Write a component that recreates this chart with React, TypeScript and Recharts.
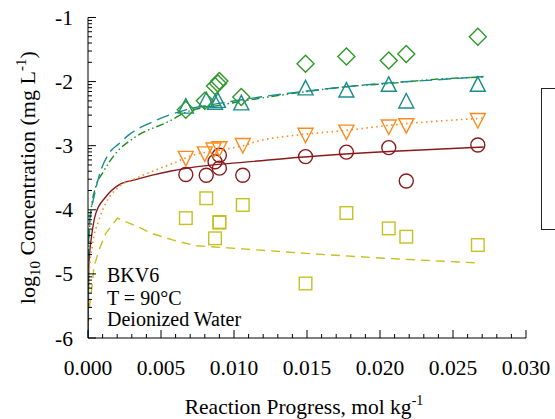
import React from "react";
import { ComposedChart, Line, Scatter, XAxis, YAxis, Customized } from "recharts";

const FONT = "Liberation Serif, Times New Roman, DejaVu Serif, serif";
const TXT = { fontFamily: FONT };

// Axis ticks
const X_MAJOR = [0, 0.005, 0.01, 0.015, 0.02, 0.025, 0.03];
const X_MINOR_STEP = 0.001;
const Y_MAJOR = [-6, -5, -4, -3, -2, -1];
const Y_MINOR_MULT = [2, 3, 4, 5, 6, 7, 8, 9];

const xTicks: number[] = [];
for (let i = 0; i <= 30; i++) xTicks.push(+(i * X_MINOR_STEP).toFixed(3));
const yTicks: number[] = [...Y_MAJOR];
Y_MAJOR.slice(0, -1).forEach((d) => Y_MINOR_MULT.forEach((k) => yTicks.push(d + Math.log10(k))));

// Measured concentrations (log10 mg/L) vs reaction progress (mol/kg)
const diamonds = [
  { x: 0.0067, y: -2.44 }, { x: 0.0080, y: -2.30 }, { x: 0.0087, y: -2.07 },
  { x: 0.0089, y: -2.03 }, { x: 0.0090, y: -1.99 }, { x: 0.0105, y: -2.24 },
  { x: 0.0149, y: -1.72 }, { x: 0.0177, y: -1.61 }, { x: 0.0206, y: -1.67 },
  { x: 0.0218, y: -1.57 }, { x: 0.0267, y: -1.30 },
];
const triangles = [
  { x: 0.0067, y: -2.39 }, { x: 0.0081, y: -2.29 }, { x: 0.0087, y: -2.33 },
  { x: 0.0089, y: -2.30 }, { x: 0.0105, y: -2.34 }, { x: 0.0149, y: -2.105 },
  { x: 0.0177, y: -2.14 }, { x: 0.0206, y: -2.05 }, { x: 0.0218, y: -2.31 },
  { x: 0.0267, y: -2.05 },
];
const invTriangles = [
  { x: 0.0067, y: -3.19 }, { x: 0.0080, y: -3.12 }, { x: 0.0086, y: -3.06 },
  { x: 0.0090, y: -3.04 }, { x: 0.0106, y: -2.99 }, { x: 0.0149, y: -2.83 },
  { x: 0.0177, y: -2.78 }, { x: 0.0206, y: -2.70 }, { x: 0.0218, y: -2.68 },
  { x: 0.0267, y: -2.60 },
];
const circles = [
  { x: 0.0067, y: -3.45 }, { x: 0.0081, y: -3.46 }, { x: 0.0087, y: -3.25 },
  { x: 0.0090, y: -3.35 }, { x: 0.0090, y: -3.15 }, { x: 0.0106, y: -3.46 },
  { x: 0.0149, y: -3.17 }, { x: 0.0177, y: -3.10 }, { x: 0.0206, y: -3.03 },
  { x: 0.0218, y: -3.55 }, { x: 0.0267, y: -2.99 },
];
const squares = [
  { x: 0.0067, y: -4.13 }, { x: 0.0081, y: -3.82 }, { x: 0.0087, y: -4.445 },
  { x: 0.0090, y: -4.19 }, { x: 0.0090, y: -4.20 }, { x: 0.0106, y: -3.925 },
  { x: 0.0149, y: -5.15 }, { x: 0.0177, y: -4.05 }, { x: 0.0206, y: -4.29 },
  { x: 0.0218, y: -4.42 }, { x: 0.0267, y: -4.55 },
];

// Model curves
const tealCurve = [
  { x: 0, y: -6 }, { x: 0.00002, y: -4.75 }, { x: 0.00012, y: -4.16 }, { x: 0.00041, y: -3.8 },
  { x: 0.00075, y: -3.48 }, { x: 0.00144, y: -3.12 }, { x: 0.00212, y: -2.97 }, { x: 0.00286, y: -2.82 },
  { x: 0.0044, y: -2.63 }, { x: 0.0067, y: -2.44 }, { x: 0.009, y: -2.34 }, { x: 0.0118, y: -2.24 },
  { x: 0.0149, y: -2.15 }, { x: 0.0177, y: -2.08 }, { x: 0.0206, y: -2.02 }, { x: 0.0237, y: -1.975 },
  { x: 0.0271, y: -1.92 },
];
const greenCurve = [
  { x: 0, y: -6 }, { x: 0.00003, y: -4.8 }, { x: 0.00019, y: -4.05 }, { x: 0.00053, y: -3.64 },
  { x: 0.00099, y: -3.43 }, { x: 0.0019, y: -3.12 }, { x: 0.00327, y: -2.86 }, { x: 0.00555, y: -2.62 },
  { x: 0.0067, y: -2.48 }, { x: 0.009, y: -2.37 }, { x: 0.0118, y: -2.26 }, { x: 0.0145, y: -2.17 },
  { x: 0.0177, y: -2.08 }, { x: 0.0206, y: -2.03 }, { x: 0.0237, y: -1.965 }, { x: 0.0271, y: -1.93 },
];
const redCurve = [
  { x: 0, y: -6 }, { x: 0.00005, y: -4.89 }, { x: 0.00027, y: -4.37 }, { x: 0.00053, y: -4.06 },
  { x: 0.00121, y: -3.8 }, { x: 0.00212, y: -3.61 }, { x: 0.00327, y: -3.53 }, { x: 0.00441, y: -3.46 },
  { x: 0.00578, y: -3.39 }, { x: 0.00738, y: -3.33 }, { x: 0.0106, y: -3.26 }, { x: 0.0145, y: -3.18 },
  { x: 0.0206, y: -3.09 }, { x: 0.0271, y: -3.02 },
];
const orangeCurve = [
  { x: 0, y: -6 }, { x: 0.00008, y: -5.0 }, { x: 0.0003, y: -4.55 }, { x: 0.00075, y: -4.16 },
  { x: 0.00121, y: -3.9 }, { x: 0.00212, y: -3.64 }, { x: 0.00327, y: -3.51 }, { x: 0.0044, y: -3.4 },
  { x: 0.00578, y: -3.28 }, { x: 0.00715, y: -3.15 }, { x: 0.009, y: -3.07 }, { x: 0.0106, y: -3.0 },
  { x: 0.0118, y: -2.92 }, { x: 0.0145, y: -2.83 }, { x: 0.0177, y: -2.76 }, { x: 0.0207, y: -2.68 },
  { x: 0.0271, y: -2.57 },
];
const yellowCurve = [
  { x: 0, y: -6 }, { x: 0.00005, y: -5.61 }, { x: 0.00027, y: -5.2 }, { x: 0.00041, y: -4.89 },
  { x: 0.00075, y: -4.63 }, { x: 0.00121, y: -4.37 }, { x: 0.00201, y: -4.13 }, { x: 0.00327, y: -4.25 },
  { x: 0.0044, y: -4.37 }, { x: 0.00578, y: -4.47 }, { x: 0.00738, y: -4.56 }, { x: 0.0106, y: -4.61 },
  { x: 0.0149, y: -4.68 }, { x: 0.0206, y: -4.76 }, { x: 0.0268, y: -4.83 },
];

const C_GREEN = "#2f9a2a";
const C_GREEN_LINE = "#1f8a1f";
const C_TEAL = "#1b8c8c";
const C_ORANGE = "#ff8a1a";
const C_RED = "#8a1a1a";
const C_YELLOW = "#c6c020";

const isMajor = (v: number, list: number[]) => list.some((m) => Math.abs(m - v) < 1e-9);

const BottomTick = (p: any) => {
  const { x, y, payload } = p;
  const major = isMajor(payload.value, X_MAJOR);
  return (
    <g>
      <line x1={x} y1={y} x2={x} y2={y - (major ? 8 : 4)} stroke="#000" />
      {major && (
        <text x={x} y={y + 37} textAnchor="middle" style={TXT} fontSize={21.5} fill="#000">
          {payload.value.toFixed(3)}
        </text>
      )}
    </g>
  );
};
const TopTick = (p: any) => {
  const { x, y, payload } = p;
  const major = isMajor(payload.value, X_MAJOR);
  return <line x1={x} y1={y} x2={x} y2={y + (major ? 8 : 4)} stroke="#000" />;
};
const LeftTick = (p: any) => {
  const { x, y, payload } = p;
  const major = isMajor(payload.value, Y_MAJOR);
  return (
    <g>
      <line x1={x} y1={y} x2={x + (major ? 8 : 4)} y2={y} stroke="#000" />
      {major && (
        <text x={x - 15} y={y + 7.5} textAnchor="end" style={TXT} fontSize={21.5} fill="#000">
          {String(payload.value)}
        </text>
      )}
    </g>
  );
};
const RightTick = (p: any) => {
  const { x, y, payload } = p;
  const major = isMajor(payload.value, Y_MAJOR);
  return <line x1={x} y1={y} x2={x - (major ? 8 : 4)} y2={y} stroke="#000" />;
};

const SW = 1.4;
const Diamond = (p: any) => {
  const { cx, cy } = p;
  const r = 8.5;
  return <polygon points={`${cx},${cy - r} ${cx + r},${cy} ${cx},${cy + r} ${cx - r},${cy}`} fill="none" stroke={C_GREEN} strokeWidth={SW} />;
};
const TriUp = (p: any) => {
  const { cx, cy } = p;
  return <polygon points={`${cx},${cy - 8} ${cx + 7.5},${cy + 6.5} ${cx - 7.5},${cy + 6.5}`} fill="none" stroke={C_TEAL} strokeWidth={SW} />;
};
const TriDown = (p: any) => {
  const { cx, cy } = p;
  return <polygon points={`${cx - 7.5},${cy - 6.5} ${cx + 7.5},${cy - 6.5} ${cx},${cy + 8}`} fill="none" stroke={C_ORANGE} strokeWidth={SW} />;
};
const Ring = (p: any) => {
  const { cx, cy } = p;
  return <circle cx={cx} cy={cy} r={7} fill="none" stroke={C_RED} strokeWidth={SW} />;
};
const Box = (p: any) => {
  const { cx, cy } = p;
  return <rect x={cx - 6.3} y={cy - 6.3} width={12.6} height={12.6} fill="none" stroke={C_YELLOW} strokeWidth={SW} />;
};

const XTitle = (p: any) => {
  const { viewBox } = p;
  const cx = viewBox.x + viewBox.width / 2;
  return (
    <text x={cx - 3} y={viewBox.y + 76} textAnchor="middle" style={TXT} fontSize={21.5} fill="#000">
      <tspan>Reaction Progress, mol kg</tspan>
      <tspan dy={-9} fontSize={14}>-1</tspan>
    </text>
  );
};
const YTitle = (p: any) => {
  const { viewBox } = p;
  const cy = viewBox.y + viewBox.height / 2;
  const bx = 35;
  return (
    <text x={bx} y={cy} transform={`rotate(-90 ${bx} ${cy})`} textAnchor="middle" style={TXT} fontSize={22} fill="#000">
      <tspan>log</tspan>
      <tspan dy={5} fontSize={15}>10</tspan>
      <tspan dy={-5}> Concentration (mg L</tspan>
      <tspan dy={-9} fontSize={15}>-1</tspan>
      <tspan dy={9}>)</tspan>
    </text>
  );
};

const Annotation = () => (
  <g style={TXT} fontSize={20} fill="#000">
    <text x={107} y={282}>BKV6</text>
    <text x={107} y={304.5}>T = 90°C</text>
    <text x={107} y={326}>Deionized Water</text>
  </g>
);

export default function App() {
  return (
    <div style={{ position: "absolute", left: 0, top: 0, width: 555, height: 419, overflow: "hidden", background: "#fff" }}>
      <ComposedChart width={555} height={419} margin={{ top: 17.5, right: 29, bottom: 0, left: 0 }}>
        <XAxis xAxisId="b" dataKey="x" type="number" domain={[0, 0.03]} allowDataOverflow ticks={xTicks} interval={0}
          tickSize={0} tickMargin={0} tickLine={false} tick={<BottomTick />} height={81} axisLine={{ stroke: "#000" }}
          label={<XTitle />} />
        <XAxis xAxisId="t" dataKey="x" type="number" orientation="top" domain={[0, 0.03]} allowDataOverflow ticks={xTicks}
          interval={0} tickSize={0} tickMargin={0} tickLine={false} tick={<TopTick />} height={0} axisLine={{ stroke: "#000" }} />
        <YAxis yAxisId="l" dataKey="y" type="number" domain={[-6, -1]} allowDataOverflow ticks={yTicks} interval={0}
          tickSize={0} tickMargin={0} tickLine={false} tick={<LeftTick />} width={88} axisLine={{ stroke: "#000" }}
          label={<YTitle />} />
        <YAxis yAxisId="r" dataKey="y" type="number" orientation="right" domain={[-6, -1]} allowDataOverflow ticks={yTicks}
          interval={0} tickSize={0} tickMargin={0} tickLine={false} tick={<RightTick />} width={0} axisLine={{ stroke: "#000" }} />

        <Line xAxisId="b" yAxisId="l" data={yellowCurve} dataKey="y" type="linear" stroke={C_YELLOW} strokeWidth={1.4}
          strokeDasharray="9 6" dot={false} isAnimationActive={false} />
        <Line xAxisId="b" yAxisId="l" data={redCurve} dataKey="y" type="monotone" stroke={C_RED} strokeWidth={1.4}
          dot={false} isAnimationActive={false} />
        <Line xAxisId="b" yAxisId="l" data={orangeCurve} dataKey="y" type="monotone" stroke={C_ORANGE} strokeWidth={1.6}
          strokeDasharray="1.5 3.5" dot={false} isAnimationActive={false} />
        <Line xAxisId="b" yAxisId="l" data={greenCurve} dataKey="y" type="monotone" stroke={C_GREEN_LINE} strokeWidth={1.4}
          strokeDasharray="8 3 1.5 3 1.5 3" dot={false} isAnimationActive={false} />
        <Line xAxisId="b" yAxisId="l" data={tealCurve} dataKey="y" type="monotone" stroke={C_TEAL} strokeWidth={1.4}
          strokeDasharray="13 6" dot={false} isAnimationActive={false} />

        <Scatter xAxisId="b" yAxisId="l" data={squares} dataKey="y" shape={<Box />} isAnimationActive={false} />
        <Scatter xAxisId="b" yAxisId="l" data={circles} dataKey="y" shape={<Ring />} isAnimationActive={false} />
        <Scatter xAxisId="b" yAxisId="l" data={invTriangles} dataKey="y" shape={<TriDown />} isAnimationActive={false} />
        <Scatter xAxisId="b" yAxisId="l" data={triangles} dataKey="y" shape={<TriUp />} isAnimationActive={false} />
        <Scatter xAxisId="b" yAxisId="l" data={diamonds} dataKey="y" shape={<Diamond />} isAnimationActive={false} />

        <Customized component={<Annotation />} />
      </ComposedChart>
      <div style={{ position: "absolute", left: 541, top: 88, width: 40, height: 140, border: "1px solid #222" }} />
    </div>
  );
}
